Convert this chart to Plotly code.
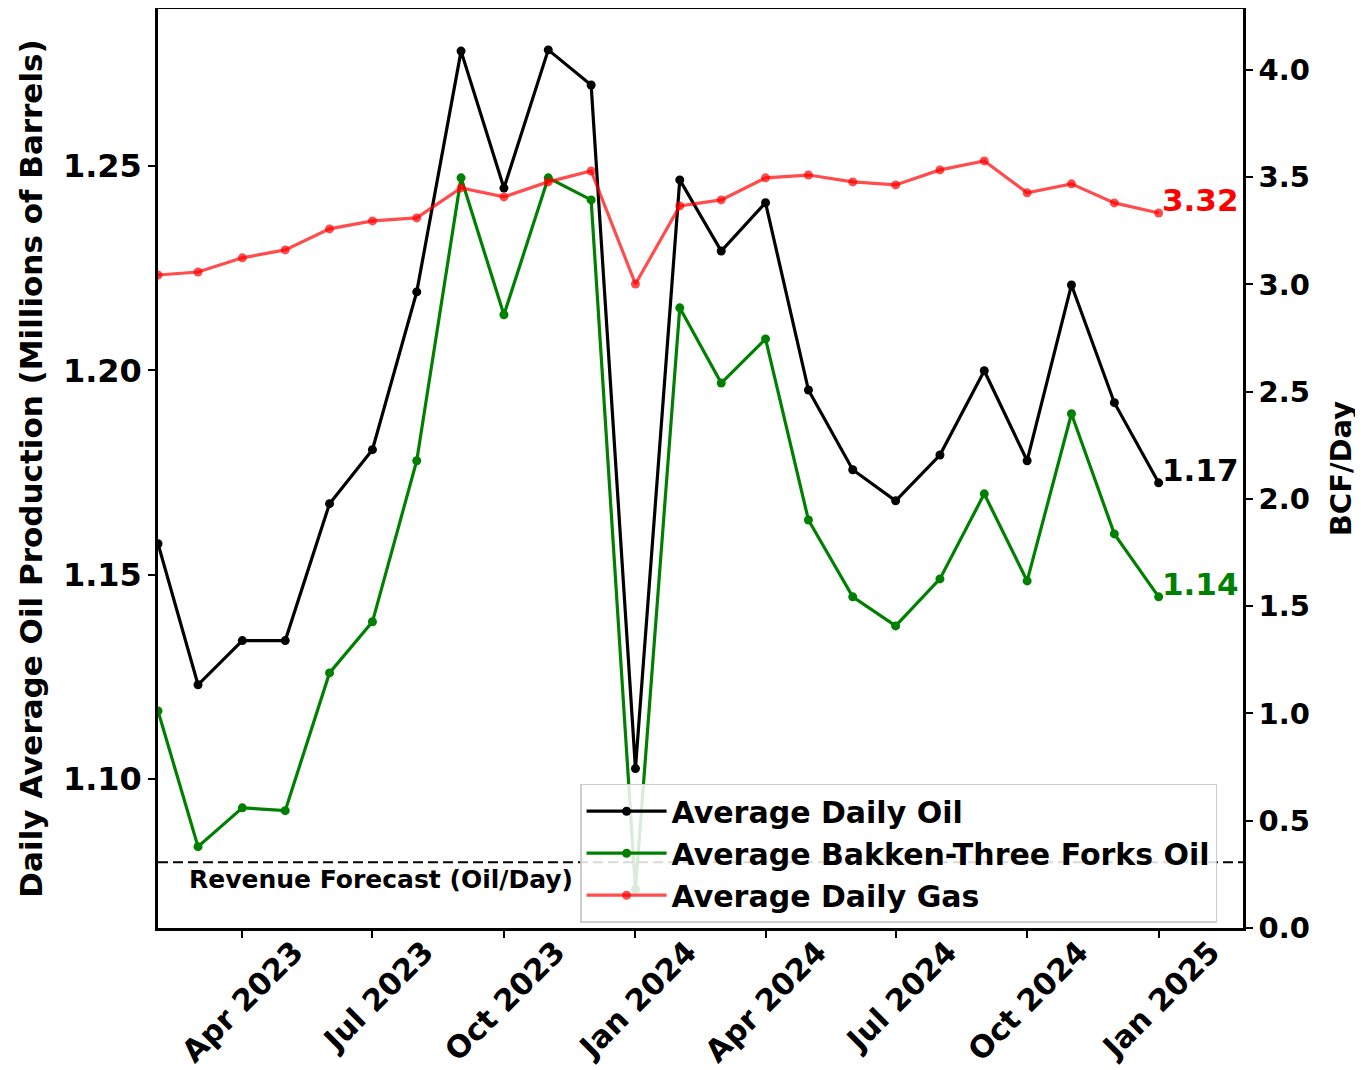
import plotly.graph_objects as go

months = ["2023-02-01", "2023-03-01", "2023-04-01", "2023-05-01", "2023-06-01", "2023-07-01",
          "2023-08-01", "2023-09-01", "2023-10-01", "2023-11-01", "2023-12-01", "2024-01-01",
          "2024-02-01", "2024-03-01", "2024-04-01", "2024-05-01", "2024-06-01", "2024-07-01",
          "2024-08-01", "2024-09-01", "2024-10-01", "2024-11-01", "2024-12-01", "2025-01-01"]

avg_daily_oil = [1.1576, 1.1231, 1.1339, 1.1339, 1.1674, 1.1806, 1.2192, 1.2781, 1.2446, 1.2784,
                 1.2698, 1.1026, 1.2466, 1.2292, 1.2410, 1.1952, 1.1757, 1.1681, 1.1793, 1.1999,
                 1.1779, 1.2209, 1.1921, 1.1725]

bakken_oil = [1.1167, 1.0835, 1.0930, 1.0923, 1.1260, 1.1385, 1.1779, 1.2471, 1.2136, 1.2471,
              1.2417, 1.0731, 1.2153, 1.1969, 1.2077, 1.1634, 1.1446, 1.1375, 1.1490, 1.1698,
              1.1485, 1.1894, 1.1600, 1.1446]

avg_daily_gas = [3.044, 3.058, 3.124, 3.161, 3.259, 3.296, 3.310, 3.450, 3.408, 3.478,
                 3.529, 3.002, 3.366, 3.394, 3.497, 3.510, 3.478, 3.464, 3.534, 3.576,
                 3.427, 3.469, 3.380, 3.333]

revenue_forecast = 1.0797
left_ticks = [1.10, 1.15, 1.20, 1.25]
right_ticks = [0.0, 0.5, 1.0, 1.5, 2.0, 2.5, 3.0, 3.5, 4.0]

FONT = "DejaVu Sans"
fb = dict(family=FONT, weight="bold", color="black")

fig = go.Figure()
fig.add_trace(go.Scatter(x=months, y=avg_daily_oil, name="Average Daily Oil", mode="lines+markers",
                         line=dict(color="black", width=3.2), marker=dict(color="black", size=9), yaxis="y"))
fig.add_trace(go.Scatter(x=months, y=bakken_oil, name="Average Bakken-Three Forks Oil", mode="lines+markers",
                         line=dict(color="green", width=3.2), marker=dict(color="green", size=9), yaxis="y"))
fig.add_trace(go.Scatter(x=months, y=avg_daily_gas, name="Average Daily Gas", mode="lines+markers",
                         line=dict(color="rgba(255,0,0,0.7)", width=3.2),
                         marker=dict(color="rgba(255,0,0,0.7)", size=9), yaxis="y2"))

fig.add_shape(type="line", xref="paper", x0=0, x1=1, yref="y", y0=revenue_forecast, y1=revenue_forecast,
              line=dict(color="black", width=2, dash="10px,5px"), layer="above")

annotations = [
    dict(x=0.027, xref="paper", y=revenue_forecast, yref="y", text="Revenue Forecast (Oil/Day)",
         xanchor="left", yanchor="top", yshift=-1, showarrow=False, font=dict(size=25, **fb)),
    dict(x=months[-1], xref="x", y=avg_daily_oil[-1], yref="y", text=f"{avg_daily_oil[-1]:.2f}",
         xanchor="left", yanchor="bottom", yshift=-7, xshift=1, showarrow=False,
         font=dict(size=31, family=FONT, weight="bold", color="black")),
    dict(x=months[-1], xref="x", y=bakken_oil[-1], yref="y", text=f"{bakken_oil[-1]:.2f}",
         xanchor="left", yanchor="bottom", yshift=-7, xshift=1, showarrow=False,
         font=dict(size=31, family=FONT, weight="bold", color="green")),
    dict(x=months[-1], xref="x", y=avg_daily_gas[-1], yref="y2", text="3.32",
         xanchor="left", yanchor="bottom", yshift=-7, xshift=1, showarrow=False,
         font=dict(size=31, family=FONT, weight="bold", color="red")),
]

fig.update_layout(
    width=1355, height=1062,
    margin=dict(l=150, r=120, t=1, b=142, autoexpand=False),
    plot_bgcolor="white", paper_bgcolor="white",
    font=dict(family=FONT, size=30, color="black", weight="bold"),
    showlegend=True,
    legend=dict(x=0.389, y=0.157, xanchor="left", yanchor="top",
                bgcolor="rgba(255,255,255,0.85)", bordercolor="rgba(200,200,200,0.9)", borderwidth=1.5,
                font=dict(size=30, **fb), itemwidth=80, tracegroupgap=0),
    annotations=annotations,
    xaxis=dict(range=["2023-02-01", "2025-03-01"], showgrid=False, zeroline=False, automargin=False,
               showline=True, linecolor="black", linewidth=2.5, mirror=True,
               ticks="outside", ticklen=7, tickwidth=2, tickcolor="black",
               dtick="M3", tick0="2023-01-01", tickformat="%b %Y", tickangle=-45,
               ticklabelshift=52, ticklabelstandoff=-16, tickfont=dict(size=30.5, **fb)),
    yaxis=dict(range=[1.0636, 1.2884], showgrid=False, zeroline=False, automargin=False,
               showline=True, linecolor="black", linewidth=2.5,
               ticks="outside", ticklen=7, tickwidth=2, tickcolor="black",
               tickvals=left_ticks, tickformat=".2f", tickfont=dict(size=32, **fb),
               title=dict(text="Daily Average Oil Production (Millions of Barrels)",
                          font=dict(size=31, **fb), standoff=12)),
    yaxis2=dict(range=[0, 4.284], overlaying="y", side="right", showgrid=False, zeroline=False,
                automargin=False,
                showline=True, linecolor="black", linewidth=2.5,
                ticks="outside", ticklen=7, tickwidth=2, tickcolor="black",
                tickvals=right_ticks, tickformat=".1f", tickfont=dict(size=29, **fb),
                title=dict(text="BCF/Day", font=dict(size=29, **fb), standoff=22)),
)

fig.write_html("out.html")
